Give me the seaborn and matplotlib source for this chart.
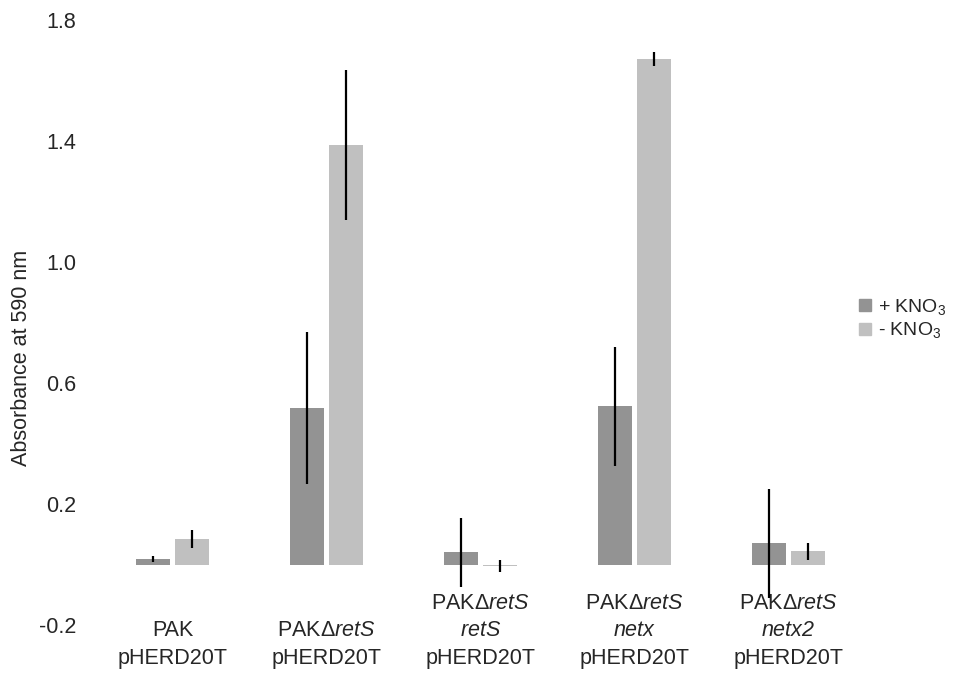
import matplotlib
matplotlib.use("Agg")
import matplotlib.pyplot as plt
from matplotlib.lines import Line2D
import numpy as np
import pandas as pd
import seaborn as sns

# Strains (x categories), italic parts written in mathtext (sf mapped to italic)
strains = [
    "PAK\npHERD20T",
    "PAK\u0394$\\mathsf{retS}$\npHERD20T",
    "PAK\u0394$\\mathsf{retS}$\n$\\mathsf{retS}$\npHERD20T",
    "PAK\u0394$\\mathsf{retS}$\n$\\mathsf{netx}$\npHERD20T",
    "PAK\u0394$\\mathsf{retS}$\n$\\mathsf{netx2}$\npHERD20T",
]
conditions = ["+ KNO$_3$", "- KNO$_3$"]

# Absorbance at 590 nm (mean and error) for each condition
plus_mean = [0.021, 0.518, 0.042, 0.524, 0.071]
plus_err = [0.010, 0.251, 0.114, 0.197, 0.180]
minus_mean = [0.085, 1.388, -0.004, 1.673, 0.045]
minus_err = [0.030, 0.247, 0.020, 0.024, 0.027]

y_ticks = [-0.2, 0.2, 0.6, 1.0, 1.4, 1.8]
colors = ["#939393", "#c0c0c0"]

sns.set_theme(style="white")
plt.rcParams["font.family"] = ["Liberation Sans", "DejaVu Sans"]
plt.rcParams["mathtext.fontset"] = "custom"
plt.rcParams["mathtext.rm"] = "Liberation Sans"
plt.rcParams["mathtext.it"] = "Liberation Sans:italic"
plt.rcParams["mathtext.sf"] = "Liberation Sans:italic"

df = pd.DataFrame({
    "strain": strains * 2,
    "condition": [conditions[0]] * len(strains) + [conditions[1]] * len(strains),
    "absorbance": plus_mean + minus_mean,
    "err": plus_err + minus_err,
})

fig = plt.figure(figsize=(9.63, 6.85), dpi=100)
ax = fig.add_axes([0.0992, 0.0869, 0.7995, 0.8832])

sns.barplot(data=df, x="strain", y="absorbance", hue="condition",
            order=strains, hue_order=conditions, palette=colors,
            width=0.51, gap=0.13, errorbar=None, legend=False,
            linewidth=0, ax=ax)

# Error bars placed at the centre of each drawn bar
bars = [p for p in ax.patches if p.get_width() > 0]
for i, cond in enumerate(conditions):
    sub = df[df["condition"] == cond]
    for j, (_, row) in enumerate(sub.iterrows()):
        bar = bars[i * len(strains) + j]
        cx = bar.get_x() + bar.get_width() / 2
        ax.errorbar(cx, row["absorbance"], yerr=row["err"], fmt="none",
                    ecolor="black", elinewidth=1.6, capsize=0)

ax.set_ylim(-0.2, 1.8)
ax.set_xlim(-0.5, 4.5)
ax.set_yticks(y_ticks)
ax.set_yticklabels([f"{v:.1f}" for v in y_ticks], fontsize=15.5)
ax.set_xticks(range(len(strains)))
ax.set_xticklabels(strains, fontsize=15.5, linespacing=1.38)
for lbl in ax.get_xticklabels():
    lbl.set_verticalalignment("bottom")
ax.tick_params(axis="x", length=0, pad=31)
ax.tick_params(axis="y", length=0, pad=14)
ax.set_xlabel("")
ax.set_ylabel("Absorbance at 590 nm", fontsize=15.5)
ax.yaxis.set_label_coords(-0.083, 0.442)
sns.despine(ax=ax, left=True, bottom=True)

handles = [Line2D([], [], marker="s", linestyle="", color=c, markersize=8)
           for c in colors]
fig.legend(handles, conditions, loc="center left",
           bbox_to_anchor=(0.888, 0.535), frameon=False, fontsize=14,
           handletextpad=0.2, labelspacing=0.2, handlelength=1.0,
           borderaxespad=0, borderpad=0)

fig.savefig("out.png", dpi=100)
